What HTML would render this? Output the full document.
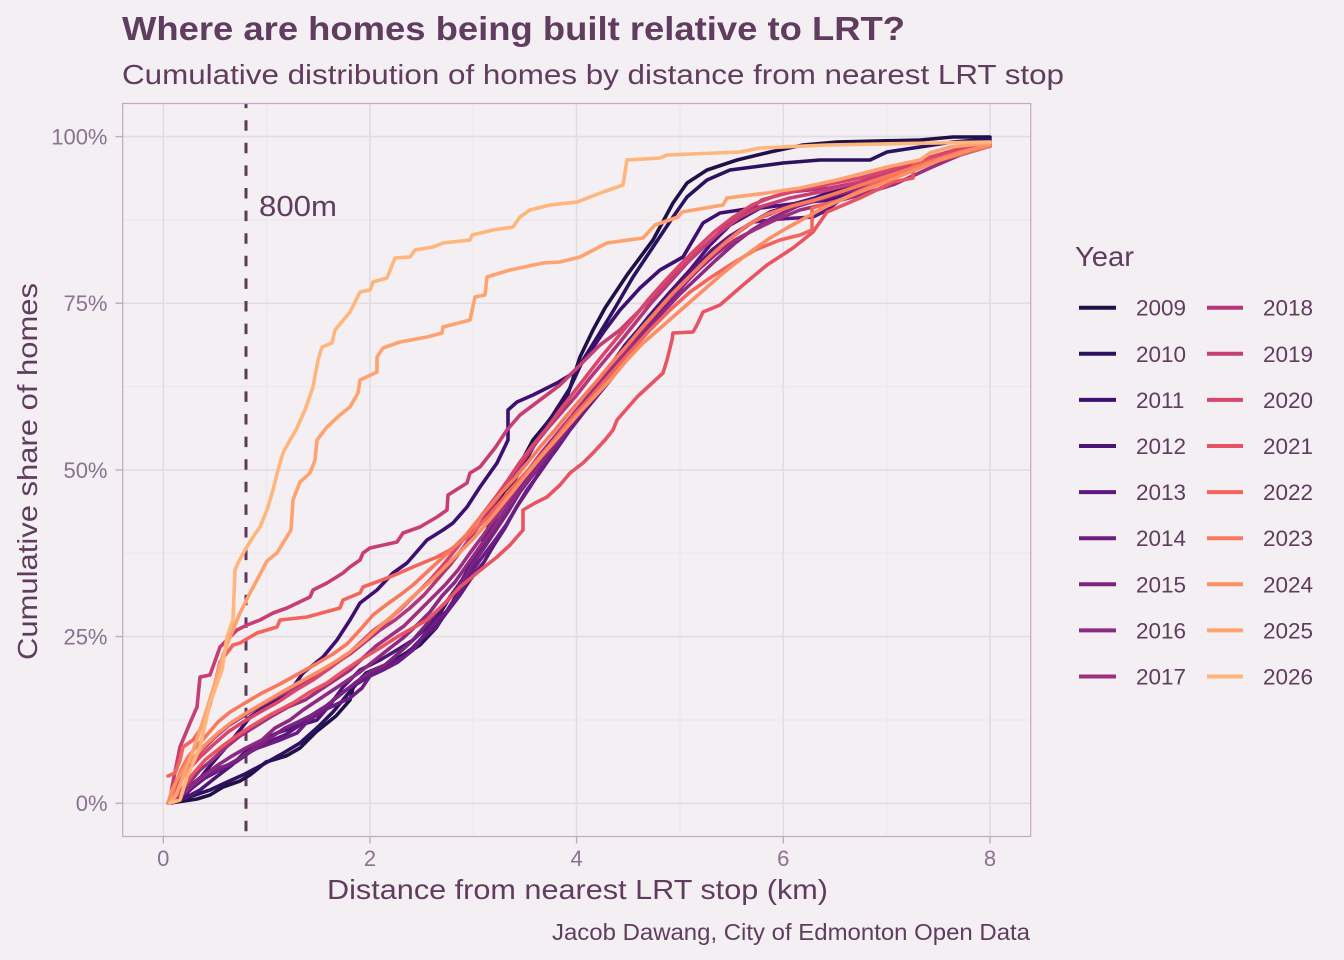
<!DOCTYPE html>
<html><head><meta charset="utf-8"><style>
html,body{margin:0;padding:0;background:#f3eff3;}
svg{display:block;font-family:"Liberation Sans",sans-serif;}
.c{fill:none;stroke-width:3.6;stroke-linejoin:round;stroke-linecap:round;}
</style></head><body>
<svg width="1344" height="960" viewBox="0 0 1344 960" xmlns="http://www.w3.org/2000/svg">
<rect x="0" y="0" width="1344" height="960" fill="#f3eff3"/>
<text x="122" y="40" font-size="33" font-weight="bold" fill="#603c5e" textLength="783" lengthAdjust="spacingAndGlyphs">Where are homes being built relative to LRT?</text>
<text x="122" y="84" font-size="28" fill="#603c5e" textLength="942" lengthAdjust="spacingAndGlyphs">Cumulative distribution of homes by distance from nearest LRT stop</text>
<g stroke="#ebe6eb" stroke-width="1">
<line x1="122.7" x2="1030.7" y1="720" y2="720"/><line x1="122.7" x2="1030.7" y1="553.3" y2="553.3"/><line x1="122.7" x2="1030.7" y1="386.6" y2="386.6"/><line x1="122.7" x2="1030.7" y1="220" y2="220"/>
<line y1="103.5" y2="836.5" x1="266.6" x2="266.6"/><line y1="103.5" y2="836.5" x1="473.3" x2="473.3"/><line y1="103.5" y2="836.5" x1="680" x2="680"/><line y1="103.5" y2="836.5" x1="886.6" x2="886.6"/>
</g>
<g stroke="#e3dce3" stroke-width="1.6">
<line x1="122.7" x2="1030.7" y1="803.3" y2="803.3"/><line x1="122.7" x2="1030.7" y1="636.6" y2="636.6"/><line x1="122.7" x2="1030.7" y1="470" y2="470"/><line x1="122.7" x2="1030.7" y1="303.3" y2="303.3"/><line x1="122.7" x2="1030.7" y1="136.6" y2="136.6"/>
<line y1="103.5" y2="836.5" x1="163.3" x2="163.3"/><line y1="103.5" y2="836.5" x1="370" x2="370"/><line y1="103.5" y2="836.5" x1="576.6" x2="576.6"/><line y1="103.5" y2="836.5" x1="783.3" x2="783.3"/><line y1="103.5" y2="836.5" x1="990" x2="990"/>
</g>
<line x1="246" x2="246" y1="103.5" y2="836.5" stroke="#5e3a5a" stroke-width="3" stroke-dasharray="10.5 12.1" stroke-dashoffset="5.9"/>
<text x="259" y="216" font-size="29" fill="#603c5e" textLength="78" lengthAdjust="spacingAndGlyphs">800m</text>
<g class="curves">
<path class="c" stroke="#1f1147" d="M170,803 L184,801 L197,799 L210,795 L223,787 L240,781 L250,775 L266,762 L286,756 L300,748 L316,732 L336,716 L350,700 L353,688 L366,673 L390,663 L406,653 L423,640 L436,620 L450,597 L463,580 L476,560 L480,550 L497,503 L517,470 L533,440 L547,423 L567,397 L580,357 L593,330 L605,308 L627,275 L653,240 L673,203 L687,183 L707,170 L737,160 L770,152 L803,145 L837,142 L920,140 L953,137 L990,137"/>
<path class="c" stroke="#2c1160" d="M168,803 L180,800 L195,795 L210,790 L225,783 L245,774 L262,765 L280,755 L300,743 L318,727 L333,712 L347,695 L362,677 L380,668 L400,658 L420,645 L436,628 L452,603 L467,578 L482,548 L495,520 L510,488 L525,462 L540,435 L556,410 L570,388 L583,360 L598,336 L615,308 L633,277 L653,247 L673,217 L687,197 L707,180 L730,170 L753,167 L783,163 L820,160 L870,160 L887,152 L920,147 L953,142 L990,139"/>
<path class="c" stroke="#3c0f70" d="M172,803 L185,795 L195,785 L205,772 L215,760 L228,745 L240,730 L250,717 L263,708 L277,700 L293,687 L303,673 L323,657 L337,640 L350,620 L360,603 L377,590 L393,573 L407,563 L427,540 L443,530 L453,523 L467,507 L480,487 L497,463 L508,440 L508,410 L517,402 L533,395 L557,383 L575,372 L590,352 L605,330 L620,310 L640,288 L660,270 L683,257 L703,223 L720,213 L740,210 L760,207 L790,205 L815,198 L835,190 L860,182 L890,172 L920,162 L950,152 L990,141"/>
<path class="c" stroke="#4d1478" d="M170,803 L185,798 L200,790 L215,778 L232,765 L250,747 L263,740 L277,733 L297,726 L317,720 L330,705 L343,687 L360,670 L380,660 L397,650 L413,640 L427,627 L440,612 L450,597 L462,580 L473,560 L487,540 L500,520 L512,500 L525,480 L538,462 L550,445 L563,428 L577,410 L590,395 L600,378 L613,362 L625,345 L638,330 L650,315 L670,292 L690,270 L710,245 L730,225 L760,208 L800,203 L830,200 L855,190 L880,178 L920,165 L960,152 L990,145"/>
<path class="c" stroke="#5d177f" d="M172,803 L180,797 L192,788 L205,778 L220,770 L236,762 L250,752 L268,742 L285,735 L300,725 L313,717 L323,713 L333,700 L346,690 L360,682 L376,672 L392,663 L406,655 L420,640 L435,628 L447,612 L460,595 L470,580 L484,562 L494,545 L505,528 L516,508 L527,490 L538,475 L550,458 L562,440 L575,420 L590,400 L605,385 L620,365 L635,345 L650,322 L665,302 L680,285 L695,268 L712,250 L730,236 L753,222 L780,219 L813,217 L827,210 L840,200 L870,185 L900,170 L940,156 L990,146"/>
<path class="c" stroke="#6c1d81" d="M168,803 L176,795 L185,790 L195,783 L208,775 L222,768 L238,760 L252,750 L266,745 L280,740 L297,733 L307,722 L320,712 L335,705 L350,698 L362,688 L370,676 L383,670 L398,662 L413,650 L424,635 L437,620 L448,610 L458,595 L468,578 L480,560 L493,543 L506,525 L518,505 L530,487 L542,468 L556,450 L570,430 L584,412 L598,395 L612,378 L626,358 L640,338 L656,318 L672,298 L690,278 L708,260 L728,240 L748,225 L770,212 L800,203 L830,196 L860,188 L890,178 L925,163 L960,150 L990,144"/>
<path class="c" stroke="#7c2382" d="M170,803 L178,796 L190,786 L202,776 L214,770 L228,765 L240,758 L255,748 L270,738 L285,728 L298,722 L310,716 L326,706 L340,695 L355,683 L370,672 L385,665 L400,652 L413,640 L426,625 L438,610 L452,596 L462,582 L472,565 L484,548 L496,530 L508,512 L520,492 L532,476 L545,460 L560,440 L574,420 L588,400 L602,382 L616,362 L630,344 L645,325 L662,305 L680,286 L698,268 L716,250 L735,233 L760,218 L785,208 L815,200 L845,192 L875,182 L905,172 L940,158 L990,146"/>
<path class="c" stroke="#8c2981" d="M172,803 L182,795 L194,784 L206,774 L218,765 L232,756 L246,748 L262,740 L275,728 L290,720 L303,710 L318,700 L333,690 L348,680 L360,672 L375,660 L390,648 L403,638 L417,625 L430,612 L442,596 L455,582 L467,565 L479,548 L492,530 L504,512 L516,495 L529,478 L542,460 L556,442 L570,423 L585,404 L600,386 L615,368 L630,350 L646,332 L663,312 L680,294 L698,277 L716,260 L734,244 L752,230 L772,218 L798,206 L828,197 L860,188 L895,176 L935,160 L990,146"/>
<path class="c" stroke="#9e2f7f" d="M170,803 L180,794 L190,782 L200,770 L212,760 L225,748 L240,736 L256,726 L272,716 L288,707 L305,700 L320,690 L335,680 L350,670 L363,658 L376,646 L390,636 L404,626 L418,612 L432,598 L445,585 L458,570 L470,553 L482,537 L494,520 L506,503 L518,486 L530,468 L542,452 L556,435 L570,418 L585,400 L600,382 L615,364 L630,345 L646,326 L662,306 L680,288 L698,270 L716,254 L735,240 L754,230 L775,220 L800,210 L830,203 L860,195 L895,184 L930,168 L960,155 L990,146"/>
<path class="c" stroke="#b3367b" d="M170,803 L176,790 L184,772 L192,760 L202,750 L214,738 L228,726 L245,715 L262,705 L280,695 L298,686 L316,677 L333,665 L350,654 L365,642 L380,630 L395,620 L410,608 L424,595 L437,580 L450,565 L463,548 L476,530 L488,513 L500,495 L512,478 L524,460 L536,443 L548,428 L562,412 L576,396 L590,378 L605,360 L620,342 L636,322 L652,302 L670,282 L688,262 L706,245 L724,228 L742,214 L762,200 L790,192 L830,188 L870,180 L910,168 L950,155 L990,146"/>
<path class="c" stroke="#c73e74" d="M170,803 L172,787 L180,747 L190,723 L197,707 L200,677 L210,675 L220,647 L237,630 L247,625 L260,620 L273,613 L287,608 L310,597 L313,590 L327,583 L343,573 L350,567 L360,560 L363,553 L370,548 L397,542 L403,533 L420,527 L437,517 L447,510 L448,495 L467,483 L470,473 L480,467 L495,448 L507,430 L520,415 L540,400 L560,385 L580,365 L600,345 L620,330 L640,310 L660,290 L680,270 L700,250 L720,232 L740,217 L760,207 L790,198 L820,192 L860,182 L900,170 L940,157 L990,146"/>
<path class="c" stroke="#d9466b" d="M170,803 L174,790 L182,778 L190,768 L200,757 L213,745 L228,732 L243,722 L260,712 L278,702 L296,690 L313,680 L330,668 L346,656 L360,643 L374,630 L388,620 L402,608 L416,594 L430,580 L443,565 L456,549 L469,532 L482,515 L495,498 L508,480 L520,462 L533,445 L547,428 L560,410 L574,392 L588,374 L602,356 L617,338 L632,320 L648,300 L664,282 L680,265 L697,248 L714,232 L732,218 L752,205 L775,196 L800,190 L830,184 L860,178 L890,170 L920,160 L955,150 L990,144"/>
<path class="c" stroke="#e95462" d="M170,803 L180,792 L192,775 L205,760 L220,748 L235,737 L250,727 L270,715 L293,703 L310,692 L327,683 L345,670 L360,660 L380,648 L397,637 L413,628 L427,620 L445,603 L460,587 L478,572 L497,557 L510,545 L523,530 L523,510 L535,503 L547,497 L560,485 L570,473 L583,463 L593,453 L605,440 L613,430 L617,420 L637,397 L650,385 L663,373 L667,360 L672,340 L673,333 L693,332 L697,325 L703,312 L720,305 L743,285 L767,265 L793,248 L813,232 L827,212 L860,198 L893,182 L913,178 L913,165 L950,155 L990,145"/>
<path class="c" stroke="#f3655c" d="M168,776 L175,773 L180,760 L183,747 L193,740 L200,730 L210,705 L220,662 L233,645 L240,643 L257,633 L277,627 L280,620 L307,617 L340,608 L343,600 L360,593 L363,587 L390,577 L413,567 L437,557 L450,550 L470,535 L490,515 L510,490 L530,468 L550,445 L570,420 L590,398 L610,375 L630,352 L650,330 L670,310 L690,292 L710,278 L730,265 L755,250 L780,240 L800,235 L812,230 L812,208 L840,200 L870,186 L900,175 L940,160 L990,146"/>
<path class="c" stroke="#f9795d" d="M170,803 L175,785 L181,770 L188,757 L196,747 L206,736 L218,722 L230,712 L245,703 L262,693 L280,684 L298,674 L316,664 L333,654 L347,644 L360,630 L373,615 L386,605 L400,595 L413,585 L427,572 L440,560 L453,548 L466,535 L478,520 L490,506 L502,492 L515,478 L528,462 L541,446 L555,430 L568,414 L582,398 L596,382 L610,365 L625,348 L640,330 L656,312 L672,294 L690,276 L708,258 L726,242 L746,226 L768,214 L792,206 L815,200 L840,192 L870,182 L900,172 L930,162 L960,152 L990,145"/>
<path class="c" stroke="#fc8e64" d="M168,803 L172,790 L178,778 L186,766 L195,756 L205,745 L218,733 L232,722 L248,712 L265,702 L282,692 L300,682 L318,672 L335,662 L350,652 L365,640 L378,628 L392,616 L405,604 L418,592 L432,580 L446,566 L460,552 L474,538 L488,522 L501,506 L514,490 L527,474 L540,458 L554,442 L568,426 L582,410 L597,394 L612,378 L627,360 L642,344 L658,330 L674,316 L690,302 L706,288 L722,274 L737,262 L753,250 L770,238 L787,228 L805,218 L825,207 L850,196 L880,184 L910,172 L940,160 L970,150 L990,145"/>
<path class="c" stroke="#fea26f" d="M170,803 L176,795 L185,772 L195,745 L205,715 L215,683 L223,655 L230,637 L240,613 L250,593 L257,580 L267,561 L277,553 L283,543 L291,530 L293,500 L300,482 L310,473 L315,460 L317,440 L327,427 L340,415 L350,407 L358,393 L360,380 L377,372 L377,357 L383,348 L400,342 L427,337 L442,333 L443,327 L470,320 L475,297 L485,295 L487,277 L510,270 L543,263 L560,262 L580,257 L607,243 L643,238 L655,225 L678,217 L682,212 L723,205 L727,198 L767,193 L800,188 L837,180 L887,167 L920,160 L930,153 L950,147 L990,143"/>
<path class="c" stroke="#feb67c" d="M170,803 L180,800 L187,777 L200,747 L210,703 L222,670 L227,637 L233,620 L235,570 L238,563 L245,550 L253,537 L260,527 L267,510 L273,490 L278,470 L283,453 L290,440 L296,430 L305,410 L313,387 L318,360 L322,347 L332,343 L335,330 L350,312 L360,292 L370,290 L373,282 L387,278 L395,258 L410,257 L415,250 L433,247 L443,243 L470,240 L472,235 L493,230 L513,227 L520,217 L530,210 L550,205 L577,202 L603,192 L623,185 L627,160 L660,158 L667,155 L740,152 L760,148 L827,145 L990,142"/>
</g>
<rect x="122.7" y="103.5" width="908" height="733" fill="none" stroke="#c9a6c6" stroke-width="1.2"/>
<g stroke="#c9a6c6" stroke-width="1.4">
<line x1="115.5" x2="122.7" y1="803.3" y2="803.3"/><line x1="115.5" x2="122.7" y1="636.6" y2="636.6"/><line x1="115.5" x2="122.7" y1="470" y2="470"/><line x1="115.5" x2="122.7" y1="303.3" y2="303.3"/><line x1="115.5" x2="122.7" y1="136.6" y2="136.6"/>
<line y1="836.5" y2="843.5" x1="163.3" x2="163.3"/><line y1="836.5" y2="843.5" x1="370" x2="370"/><line y1="836.5" y2="843.5" x1="576.6" x2="576.6"/><line y1="836.5" y2="843.5" x1="783.3" x2="783.3"/><line y1="836.5" y2="843.5" x1="990" x2="990"/>
</g>
<g font-size="22" fill="#8a7290" text-anchor="end">
<text x="107.5" y="811">0%</text><text x="107.5" y="644.5">25%</text><text x="107.5" y="478">50%</text><text x="107.5" y="311">75%</text><text x="107.5" y="144.5">100%</text>
</g>
<g font-size="22" fill="#8a7290" text-anchor="middle">
<text x="163.3" y="866">0</text><text x="370" y="866">2</text><text x="576.6" y="866">4</text><text x="783.3" y="866">6</text><text x="990" y="866">8</text>
</g>
<text x="327" y="899" font-size="28" fill="#603c5e" textLength="501" lengthAdjust="spacingAndGlyphs">Distance from nearest LRT stop (km)</text>
<text transform="translate(37,660) rotate(-90)" x="0" y="0" font-size="28" fill="#603c5e" textLength="377" lengthAdjust="spacingAndGlyphs">Cumulative share of homes</text>
<text x="552" y="940" font-size="23" fill="#603c5e" textLength="478" lengthAdjust="spacingAndGlyphs">Jacob Dawang, City of Edmonton Open Data</text>
<text x="1075" y="266" font-size="28" fill="#603c5e" textLength="59" lengthAdjust="spacingAndGlyphs">Year</text>
<g stroke-width="4">
<line x1="1079" x2="1116" y1="307.7" y2="307.7" stroke="#1f1147"/>
<line x1="1079" x2="1116" y1="353.8" y2="353.8" stroke="#2c1160"/>
<line x1="1079" x2="1116" y1="399.9" y2="399.9" stroke="#3c0f70"/>
<line x1="1079" x2="1116" y1="446" y2="446" stroke="#4d1478"/>
<line x1="1079" x2="1116" y1="492.1" y2="492.1" stroke="#5d177f"/>
<line x1="1079" x2="1116" y1="538.2" y2="538.2" stroke="#6c1d81"/>
<line x1="1079" x2="1116" y1="584.3" y2="584.3" stroke="#7c2382"/>
<line x1="1079" x2="1116" y1="630.4" y2="630.4" stroke="#8c2981"/>
<line x1="1079" x2="1116" y1="676.5" y2="676.5" stroke="#9e2f7f"/>
<line x1="1207" x2="1243" y1="307.7" y2="307.7" stroke="#b3367b"/>
<line x1="1207" x2="1243" y1="353.8" y2="353.8" stroke="#c73e74"/>
<line x1="1207" x2="1243" y1="399.9" y2="399.9" stroke="#d9466b"/>
<line x1="1207" x2="1243" y1="446" y2="446" stroke="#e95462"/>
<line x1="1207" x2="1243" y1="492.1" y2="492.1" stroke="#f3655c"/>
<line x1="1207" x2="1243" y1="538.2" y2="538.2" stroke="#f9795d"/>
<line x1="1207" x2="1243" y1="584.3" y2="584.3" stroke="#fc8e64"/>
<line x1="1207" x2="1243" y1="630.4" y2="630.4" stroke="#fea26f"/>
<line x1="1207" x2="1243" y1="676.5" y2="676.5" stroke="#feb67c"/>
</g>
<g font-size="22.5" fill="#603c5e">
<text x="1136" y="315.7">2009</text><text x="1136" y="361.8">2010</text><text x="1136" y="407.9">2011</text><text x="1136" y="454">2012</text><text x="1136" y="500.1">2013</text><text x="1136" y="546.2">2014</text><text x="1136" y="592.3">2015</text><text x="1136" y="638.4">2016</text><text x="1136" y="684.5">2017</text>
<text x="1263" y="315.7">2018</text><text x="1263" y="361.8">2019</text><text x="1263" y="407.9">2020</text><text x="1263" y="454">2021</text><text x="1263" y="500.1">2022</text><text x="1263" y="546.2">2023</text><text x="1263" y="592.3">2024</text><text x="1263" y="638.4">2025</text><text x="1263" y="684.5">2026</text>
</g>
</svg>
</body></html>
